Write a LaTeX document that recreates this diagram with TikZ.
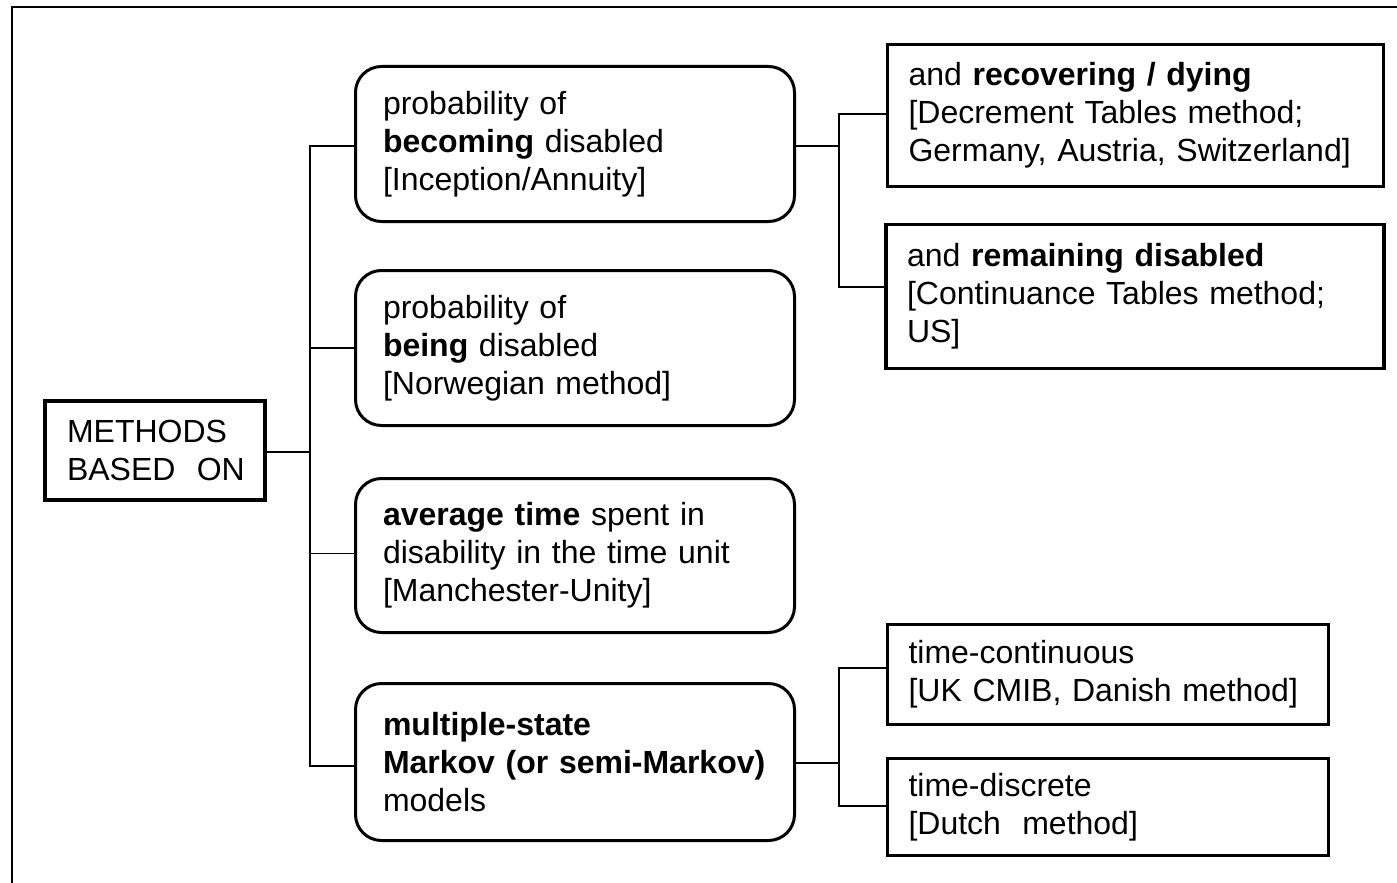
\documentclass[tikz,border=0pt]{standalone}
\usepackage{fontspec}
\setmainfont{Liberation Sans}
\begin{document}
\begin{tikzpicture}[x=1pt,y=-1pt,
  txt/.style={font=\fontsize{32pt}{38pt}\selectfont, align=left, inner ysep=0pt, text=black},
  roundbox/.style={txt, draw, line width=3pt, rounded corners=26pt,
    inner xsep=27.5pt, text width=384pt, minimum width=439pt},
  squarebox/.style={txt, draw, line width=3.2pt, inner xsep=21pt},
  link/.style={draw, line width=1.5pt}
]
\useasboundingbox (0,0) rectangle (1397,883);
% frame
\draw[line width=1.5pt] (12,900) -- (12,7) -- (1410,7);

% root
\node[squarebox, text width=176pt, inner xsep=22pt, minimum height=99pt] (meth) at (155,450.5)
  {METHODS\\BASED~~ON};

% first level
\node[roundbox, minimum height=155pt] (b1) at (575,144)
  {probability of\\\textbf{becoming} disabled\\{}[Inception/Annuity]};
\node[roundbox, minimum height=155pt] (b2) at (575,348)
  {probability of\\\textbf{being} disabled\\{}[Norwegian method]};
\node[roundbox, minimum height=154pt] (b3) at (575,555.5)
  {\textbf{average time} spent in\\disability in the time unit\\{}[Manchester-Unity]};
\node[roundbox, minimum height=157pt] (b4) at (575,762)
  {\textbf{multiple-state}\\\textbf{Markov (or semi-Markov)}\\models};

% second level
\node[squarebox, text width=454pt, minimum height=142pt] (rd) at (1135.5,115.5)
  {and \textbf{recovering / dying}\\{}[Decrement Tables method;\\Germany, Austria, Switzerland]};
\node[squarebox, text width=456pt, minimum height=144pt] (rm) at (1135,296.5)
  {and \textbf{remaining disabled}\\{}[Continuance Tables method;\\US]};
\node[squarebox, text width=399pt, minimum height=100pt] (tc) at (1108,674.5)
  {time-continuous\\{}[UK CMIB, Danish method]};
\node[squarebox, text width=399pt, minimum height=97pt] (td) at (1108,807)
  {time-discrete\\{}[Dutch~~method]};

% main tree
\coordinate (spine) at (310,0);
\draw[link] ([yshift=-1.5pt]meth.east) -- ([yshift=-1.5pt]meth.east -| spine);
\draw[link] ([yshift=-2pt]b1.west) -- ([yshift=-2pt]b1.west -| spine)
  -- ([yshift=-4pt]b4.west -| spine) -- ([yshift=-4pt]b4.west);
\draw[link] (b2.west) -- (b2.west -| spine);
\draw[link] ([yshift=2pt]b3.west) -- ([yshift=2pt]b3.west -| spine);

% upper branch
\coordinate (forkA) at (839,0);
\draw[link] ([yshift=-2pt]b1.east) -- ([yshift=-2pt]b1.east -| forkA);
\draw[link] ([yshift=1.5pt]rd.west) -- ([yshift=1.5pt]rd.west -| forkA)
  -- ([yshift=9.5pt]rm.west -| forkA) -- ([yshift=9.5pt]rm.west);

% lower branch
\coordinate (forkB) at (839,0);
\draw[link] ([yshift=-1pt]b4.east) -- ([yshift=-1pt]b4.east -| forkB);
\draw[link] ([yshift=6.5pt]tc.west) -- ([yshift=6.5pt]tc.west -| forkB)
  -- ([yshift=1pt]td.west -| forkB) -- ([yshift=1pt]td.west);
\end{tikzpicture}
\end{document}
